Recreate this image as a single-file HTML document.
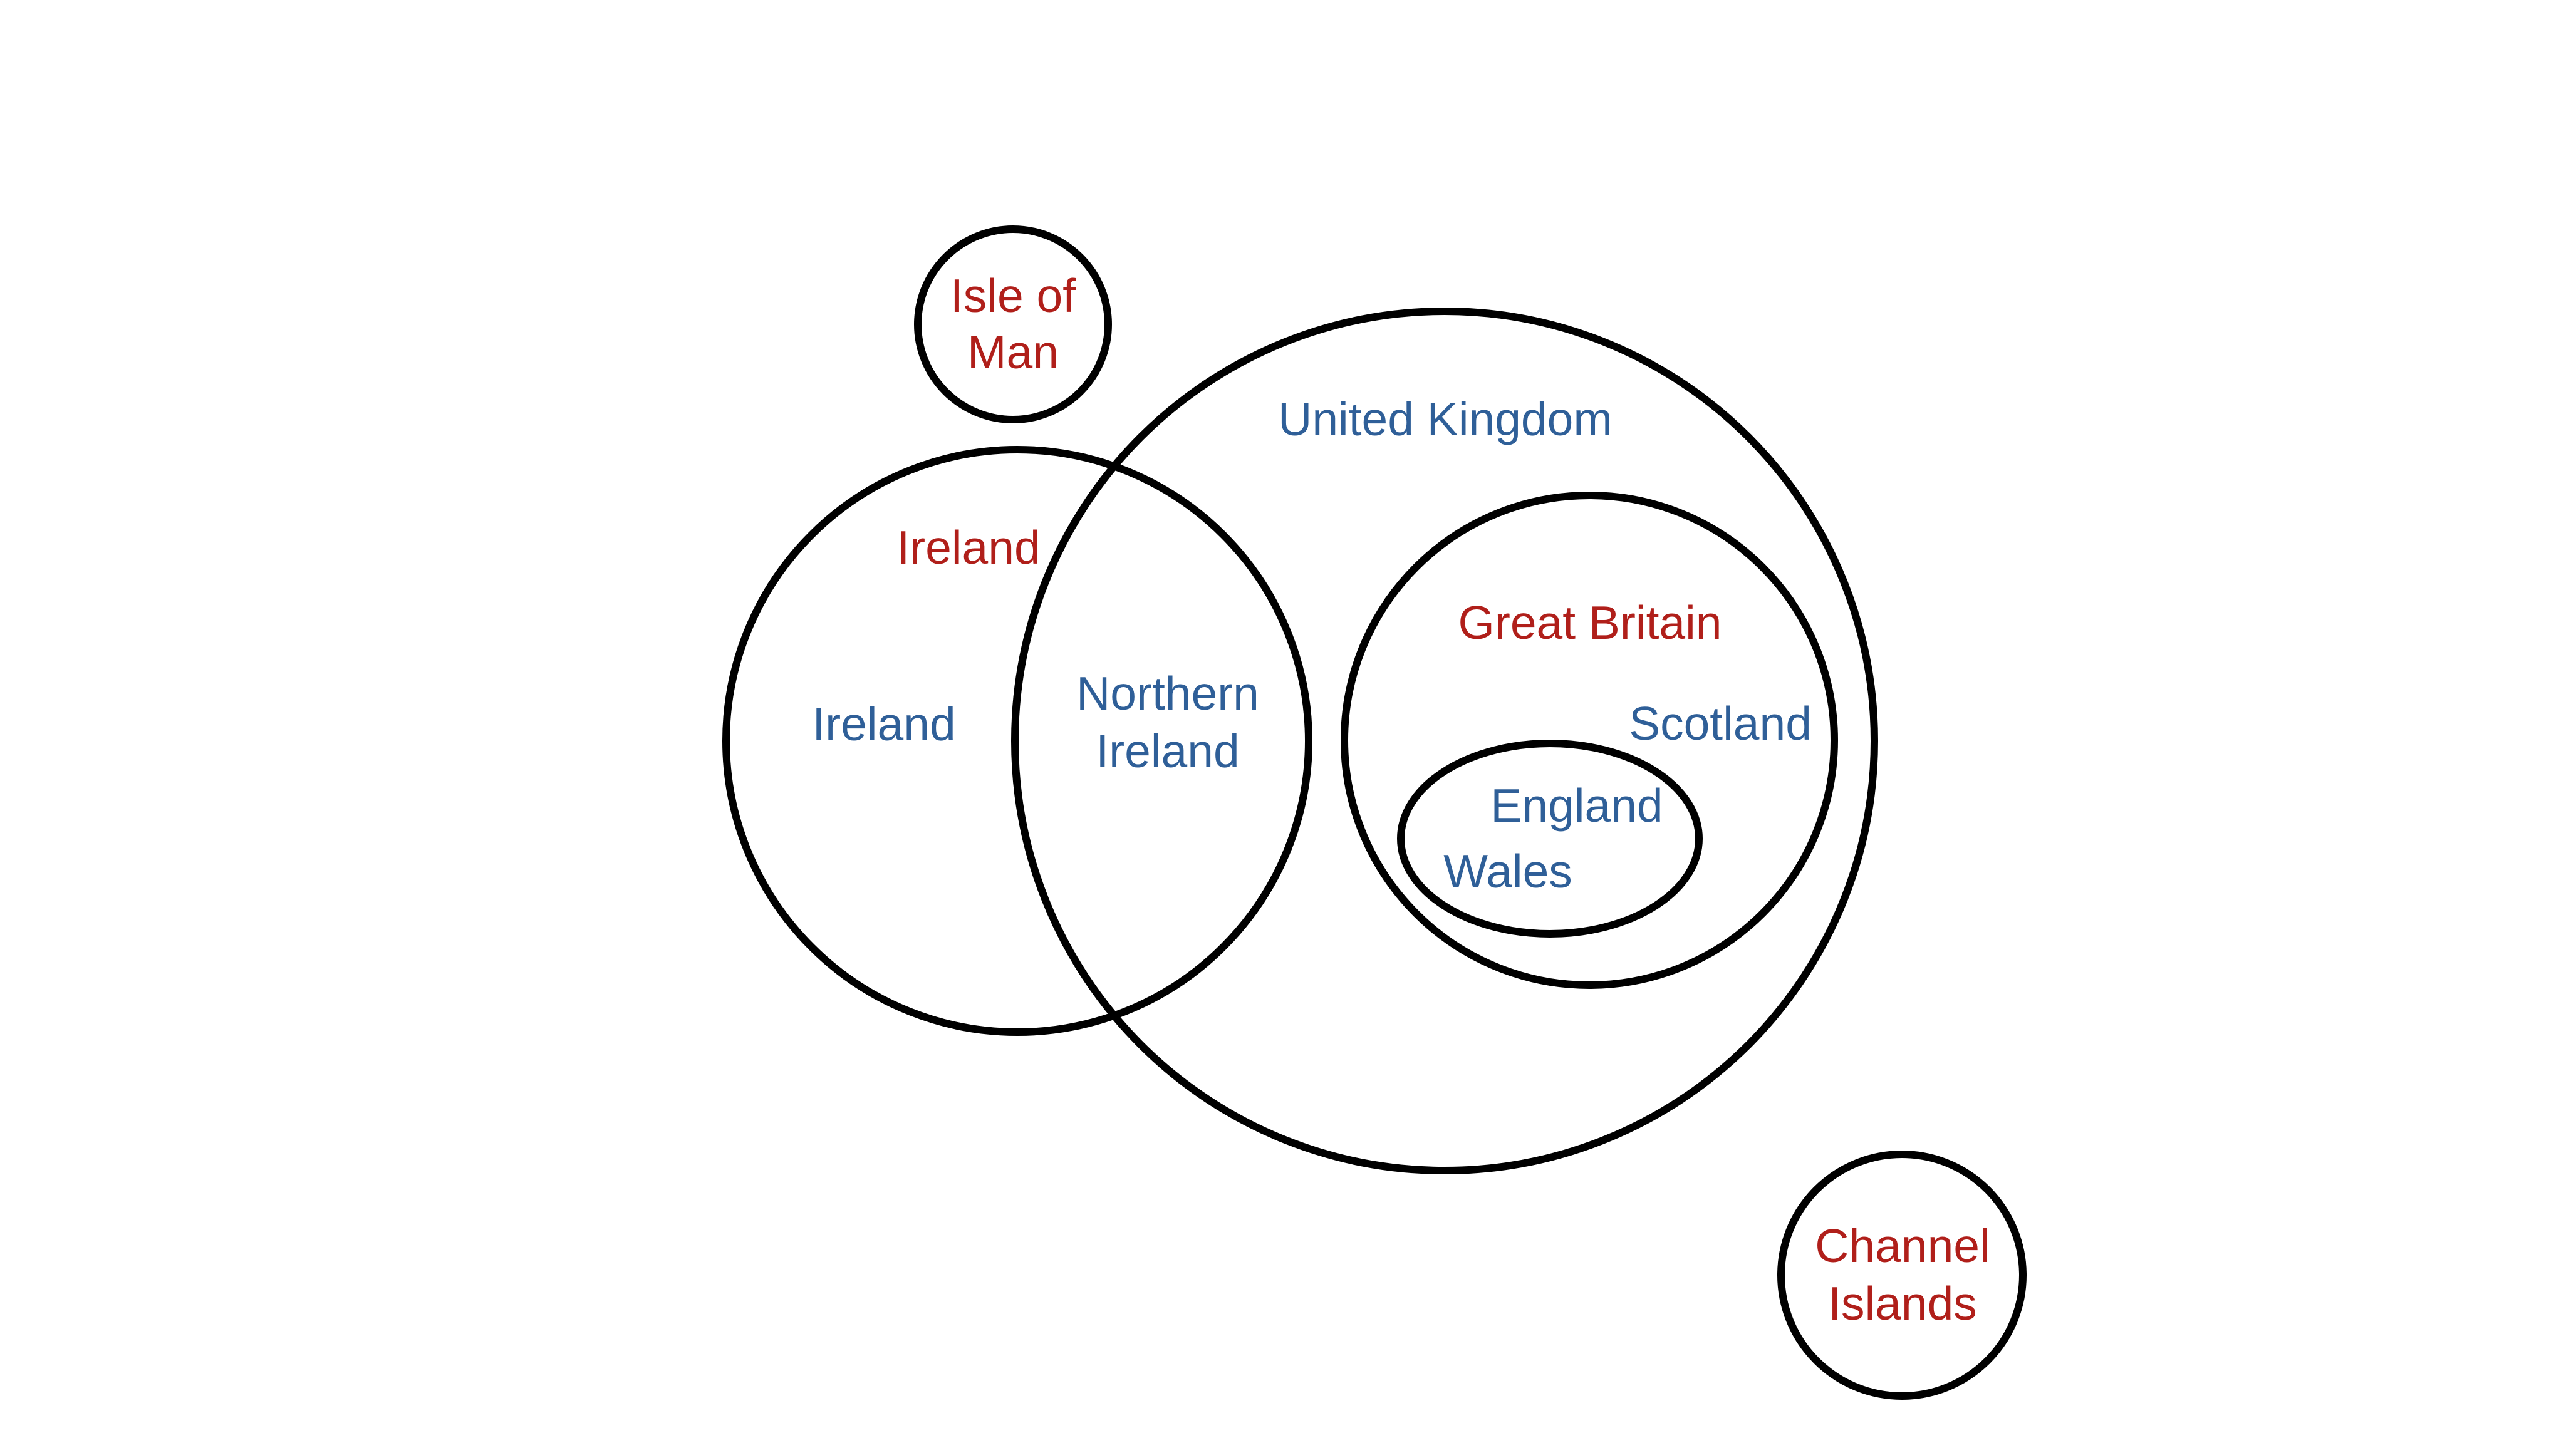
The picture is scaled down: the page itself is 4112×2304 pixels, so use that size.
<!DOCTYPE html>
<html><head><meta charset="utf-8"><style>html,body{margin:0;padding:0;background:#fff}svg{display:block}</style></head>
<body>
<svg width="4112" height="2304" viewBox="0 0 4112 2304" xmlns="http://www.w3.org/2000/svg">
<rect width="4112" height="2304" fill="#fff"/>
<g fill="none" stroke="#000" stroke-width="12">
<circle cx="1617" cy="518" r="152"/>
<circle cx="1624" cy="1183" r="465"/>
<circle cx="2306" cy="1183" r="686"/>
<circle cx="2537" cy="1182" r="391"/>
<ellipse cx="2474" cy="1339" rx="238" ry="152"/>
<circle cx="3036" cy="2036" r="193"/>
</g>
<g font-family="Liberation Sans, sans-serif" font-size="75" text-anchor="middle" dominant-baseline="central">
<g fill="#b01f1a">
<text x="1617" y="472">Isle of</text>
<text x="1617" y="562">Man</text>
<text x="1546" y="874">Ireland</text>
<text x="2538" y="994">Great Britain</text>
<text x="3037" y="1989">Channel</text>
<text x="3037" y="2081">Islands</text>
</g>
<g fill="#2f5f98">
<text x="2307" y="669">United Kingdom</text>
<text x="1411" y="1156">Ireland</text>
<text x="1864" y="1107">Northern</text>
<text x="1864" y="1199">Ireland</text>
<text x="2746" y="1155">Scotland</text>
<text x="2517" y="1286">England</text>
<text x="2407" y="1391">Wales</text>
</g>
</g>
</svg>
</body></html>
